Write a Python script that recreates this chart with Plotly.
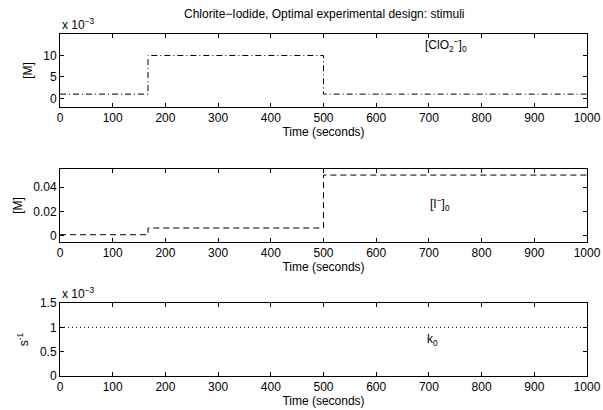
import plotly.graph_objects as go
from plotly.subplots import make_subplots

# Stimulus schedule (seconds) and the piecewise-constant inputs
switch_times = [0, 167, 500, 1000]
clo2_conc = [0.001, 0.01, 0.001, 0.001]      # [ClO2-]_0 in M
iodide_conc = [0.001, 0.0065, 0.05, 0.05]    # [I-]_0 in M
rate_k0 = [0.001, 0.001, 0.001, 0.001]       # k_0 in s^-1

x_ticks = [0, 100, 200, 300, 400, 500, 600, 700, 800, 900, 1000]
clo2_ticks = [0, 0.005, 0.01]
clo2_tick_text = ["0", "5", "10"]
iodide_ticks = [0, 0.02, 0.04]
iodide_tick_text = ["0", "0.02", "0.04"]
k_ticks = [0, 0.0005, 0.001, 0.0015]
k_tick_text = ["0", "0.5", "1", "1.5"]

FONT = "Liberation Sans"
FS = 12

fig = make_subplots(rows=3, cols=1)

fig.add_trace(go.Scatter(x=switch_times, y=clo2_conc, mode="lines", line_shape="hv",
                         line=dict(color="black", width=1, dash="6px,3px,1px,3px")),
              row=1, col=1)
fig.add_trace(go.Scatter(x=switch_times, y=iodide_conc, mode="lines", line_shape="hv",
                         line=dict(color="black", width=1, dash="6px,4px")),
              row=2, col=1)
fig.add_trace(go.Scatter(x=switch_times, y=rate_k0, mode="lines", line_shape="hv",
                         line=dict(color="black", width=1, dash="1px,3px")),
              row=3, col=1)

axis_style = dict(showline=True, linecolor="black", linewidth=1, mirror="allticks",
                  ticks="inside", ticklen=4, tickcolor="black", showgrid=False,
                  zeroline=False, automargin=False,
                  tickfont=dict(size=FS, color="black", family=FONT))
title_font = dict(size=FS, color="black", family=FONT)

domains = [[0.7865, 1.0], [0.3918, 0.6053], [0.0, 0.2135]]
for i in range(3):
    fig.update_xaxes(row=i + 1, col=1, range=[0, 1000], tickvals=x_ticks,
                     title=dict(text="Time (seconds)", standoff=0, font=title_font),
                     **axis_style)

fig.update_yaxes(row=1, col=1, range=[-0.002, 0.015], tickvals=clo2_ticks,
                 ticktext=clo2_tick_text, domain=domains[0],
                 title=dict(text="[M]", standoff=8, font=title_font), **axis_style)
fig.update_yaxes(row=2, col=1, range=[-0.005, 0.055], tickvals=iodide_ticks,
                 ticktext=iodide_tick_text, domain=domains[1],
                 title=dict(text="[M]", standoff=8, font=title_font), **axis_style)
fig.update_yaxes(row=3, col=1, range=[0, 0.0015], tickvals=k_ticks,
                 ticktext=k_tick_text, domain=domains[2],
                 title=dict(text="s<sup>-1</sup>", standoff=8, font=title_font), **axis_style)

annot_font = dict(size=FS, color="black", family=FONT)
annotations = [
    dict(text="Chlorite\u2212Iodide, Optimal experimental design: stimuli",
         xref="paper", yref="paper", x=0.5, y=1.0, yshift=20, showarrow=False,
         xanchor="center", yanchor="middle", font=annot_font),
    dict(text="x 10<sup>\u22123</sup>", xref="x domain", yref="y domain", x=0, y=1,
         xanchor="left", yanchor="bottom", showarrow=False, font=annot_font),
    dict(text="x 10<sup>\u22123</sup>", xref="x3 domain", yref="y3 domain", x=0, y=1,
         xanchor="left", yanchor="bottom", showarrow=False, font=annot_font),
    dict(text="[ClO<sub>2</sub><sup>\u2212</sup>]<sub>0</sub>", xref="x", yref="y",
         x=689, y=0.0125, xanchor="left", yanchor="middle", showarrow=False, font=annot_font),
    dict(text="[I<sup>\u2212</sup>]<sub>0</sub>", xref="x2", yref="y2",
         x=698, y=0.0264, xanchor="left", yanchor="middle", showarrow=False, font=annot_font),
    dict(text="k<sub>0</sub>", xref="x3", yref="y3",
         x=693, y=0.00074, xanchor="left", yanchor="middle", showarrow=False, font=annot_font),
]

fig.update_layout(width=603, height=410, showlegend=False,
                  margin=dict(l=60, r=16, t=34, b=34),
                  plot_bgcolor="white", paper_bgcolor="white",
                  font=dict(family=FONT, size=FS, color="black"),
                  annotations=annotations)

fig.write_html("out.html")
